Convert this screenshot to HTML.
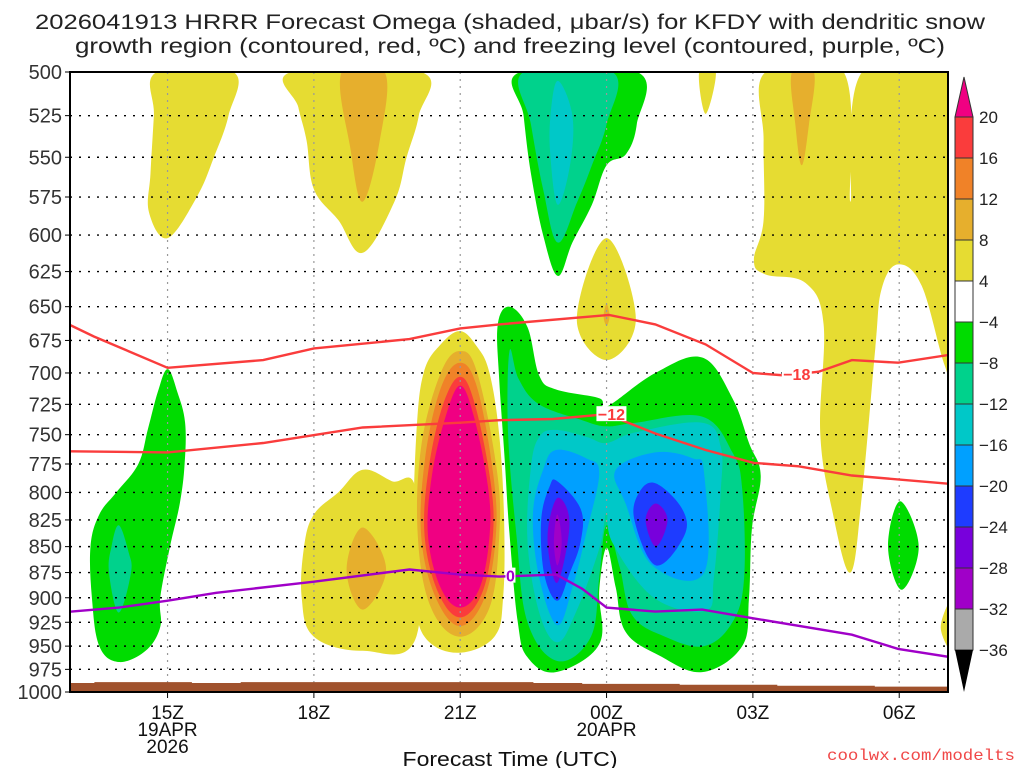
<!DOCTYPE html>
<html><head><meta charset="utf-8"><title>HRRR Omega</title>
<style>
html,body{margin:0;padding:0;background:#fff;}
svg{display:block;font-family:"Liberation Sans Narrow","Liberation Sans",sans-serif;}
</style></head>
<body>
<svg id="chart" width="1024" height="768" viewBox="0 0 1024 768" xmlns="http://www.w3.org/2000/svg">
<rect width="1024" height="768" fill="#fff"/>
<g id="title" fill="#222" font-size="21">
<text x="510" y="29" text-anchor="middle" textLength="950" lengthAdjust="spacingAndGlyphs">2026041913 HRRR Forecast Omega (shaded, μbar/s) for KFDY with dendritic snow</text>
<text x="510" y="53" text-anchor="middle" textLength="870" lengthAdjust="spacingAndGlyphs">growth region (contoured, red, ºC) and freezing level (contoured, purple, ºC)</text>
</g>
<defs><clipPath id="pc"><rect x="70" y="72" width="878" height="620"/></clipPath></defs>
<g id="fills" clip-path="url(#pc)"></g>
<g id="grid" clip-path="url(#pc)"></g>
<g id="lines" clip-path="url(#pc)"></g>
<g id="axes"></g>
<g id="cbar"></g>
<text x="510" y="766" text-anchor="middle" font-size="20" fill="#111" textLength="215" lengthAdjust="spacingAndGlyphs">Forecast Time (UTC)</text>
<text x="1015" y="760" text-anchor="end" font-size="16" fill="#f04848" font-family="Liberation Mono, monospace" textLength="188" lengthAdjust="spacingAndGlyphs">coolwx.com/modelts</text>
</svg>
<script>
// ---- axis data ----
const pressureTicks=[500,525,550,575,600,625,650,675,700,725,750,775,800,825,850,875,900,925,950,975,1000];
const timeTickHours=[15,18,21,24,27,30];
const timeTickLabels=["15Z","18Z","21Z","00Z","03Z","06Z"];
const dateLabels=[[15,"19APR"],[15,"2026"],[24,"20APR"]];
const colorLevels=["20","16","12","8","4","−4","−8","−12","−16","−20","−24","−28","−32","−36"];
const colorFills=["#fa3c3c","#f08228","#e6af2d","#e6dc32","#ffffff","#00dc00","#00d28c","#00c8c8","#00a0ff","#1e3cff","#7800dc","#a000c8","#aaaaaa"];
// ---- omega shaded regions (hour since 00Z 19APR, hPa) ----
const yellowTopLeft=[[14.78,500],[16.35,500],[16.25,525],[15.95,550],[15.6,575],[15.0,602],[14.62,585],[14.65,560],[14.72,525]];
const yellowTop18=[[17.54,500],[20.2,500],[20.15,525],[19.9,550],[19.65,578],[19.0,612],[18.5,590],[18.0,570],[17.85,540],[17.68,520]];
const goldTop18=[[18.57,500],[19.45,500],[19.35,540],[19.0,578],[18.75,545]];
const greenLeft=[[15.0,697],[15.2,715],[15.36,740],[15.35,775],[15.25,810],[15.05,850],[14.85,900],[14.85,930],[14.55,955],[14.0,967],[13.6,950],[13.45,900],[13.42,850],[13.6,820],[13.95,800],[14.4,775],[14.6,745],[14.8,715]];
const tealLeft=[[14.0,830],[14.2,855],[14.25,875],[14.0,915],[13.8,875],[13.85,850]];
const yellowLow18=[[17.8,850],[18.0,820],[18.5,800],[19.0,780],[19.6,790],[20.1,800],[20.1,940],[19.0,955],[18.0,940],[17.75,900]];
const goldLow18=[[19.0,832],[19.48,872],[19.0,912],[18.67,872]];
const yellowCol=[[21.0,668],[21.35,680],[21.6,700],[21.8,750],[21.9,825],[21.88,900],[21.7,940],[21.0,957],[20.35,945],[20.08,910],[20.03,850],[20.1,750],[20.25,700],[20.6,678]];
const goldCol=[[21.0,683],[21.35,700],[21.75,780],[21.8,840],[21.6,910],[21.0,940],[20.4,910],[20.13,840],[20.2,760],[20.6,700]];
const orangeCol=[[21.0,692],[21.35,712],[21.68,785],[21.73,840],[21.5,900],[21.0,929],[20.5,900],[20.2,840],[20.28,770],[20.6,712]];
const redCol=[[21.0,703],[21.3,725],[21.62,790],[21.67,840],[21.45,895],[21.0,920],[20.55,895],[20.27,840],[20.35,780],[20.65,725]];
const magentaCol=[[21.0,710],[21.28,735],[21.57,795],[21.6,840],[21.4,890],[21.0,910],[20.6,890],[20.34,840],[20.42,785],[20.7,735]];
const greenTop23=[[22.23,500],[24.63,500],[24.62,530],[24.4,548],[24.0,555],[23.7,580],[23.3,605],[23.0,628],[22.7,600],[22.45,560],[22.3,525]];
const tealTop23=[[22.3,500],[24.12,500],[24.0,530],[23.7,555],[23.4,578],[23.0,605],[22.7,570],[22.45,530]];
const cyanTop23=[[23.0,505],[23.3,525],[23.25,555],[23.0,580],[22.85,550],[22.85,525]];
const greenMain=[[22.01,650],[22.38,665],[22.62,702],[22.96,713],[23.85,720],[24.0,727],[25.0,700],[25.96,688],[26.58,720],[26.92,757],[27.16,785],[26.98,833],[26.92,900],[26.78,950],[25.96,978],[25.08,960],[24.39,935],[24.19,890],[24.0,851],[23.85,893],[23.85,948],[22.96,978],[22.38,962],[22.18,925],[22.01,838],[21.91,770],[21.8,705],[21.77,663]];
const tealMain=[[22.01,683],[22.2,705],[22.62,725],[23.5,738],[24.0,743],[24.6,740],[25.96,735],[26.58,765],[26.78,797],[26.82,880],[26.58,925],[26.0,950],[25.2,940],[24.53,918],[24.27,870],[24.0,830],[23.85,880],[23.68,940],[23.0,966],[22.38,925],[22.15,838],[21.98,748]];
const cyanMain=[[22.62,752],[22.96,746],[23.6,752],[24.0,757],[24.6,748],[25.96,740],[26.34,760],[26.34,800],[26.2,880],[26.03,913],[24.97,900],[24.13,847],[24.0,818],[23.85,852],[23.37,915],[22.99,946],[22.62,915],[22.38,845],[22.45,778]];
const lblueL=[[22.96,763],[23.58,770],[23.85,783],[23.58,838],[23.3,890],[22.99,928],[22.62,880],[22.49,820],[22.7,780]];
const lblueR=[[25.0,765],[25.76,770],[26.0,783],[26.0,875],[24.94,868],[24.39,810],[24.19,780]];
const blueL=[[22.99,790],[23.47,815],[23.47,845],[23.24,876],[22.99,903],[22.72,876],[22.66,825],[22.83,795]];
const blueR=[[25.01,792],[25.55,815],[25.59,840],[25.01,868],[24.57,825],[24.67,800]];
const purpleL=[[22.99,805],[23.24,828],[22.99,885],[22.79,842]];
const purpleR=[[25.01,810],[25.25,825],[25.01,850],[24.8,825]];
const violetL=[[22.99,820],[23.08,845],[22.99,868],[22.92,845]];
const yellowRight=[[27.26,500],[28.86,500],[29.0,578],[29.24,500],[31.2,500],[31.2,706],[30.94,695],[30.46,635],[29.98,620],[29.64,637],[29.51,681],[29.24,800],[29.0,875],[28.62,815],[28.38,748],[28.45,663],[28.08,633],[27.26,627],[27.02,617],[27.22,590],[27.22,540]];
const goldRight=[[27.8,500],[28.25,500],[28.15,530],[28.0,555],[27.87,530]];
const yellowSmallTop=[[25.9,500],[26.24,500],[26.03,524]];
const yellowDiamond=[[24.0,602],[24.6,659],[24.0,690],[23.39,659]];
const goldDot=[[24.0,648],[24.06,657],[24.0,664],[23.94,657]];
const greenSmall=[[30.02,808],[30.4,850],[30.05,892],[29.77,850]];
const yellowCorner=[[31.2,895],[31.2,960],[30.85,930]];
const shadedRegions=[
 [yellowTopLeft,"#e6dc32","yellow-region"],[yellowTop18,"#e6dc32","yellow-region"],[goldTop18,"#e6af2d","gold-region"],
 [greenLeft,"#00dc00","green-region"],[tealLeft,"#00d28c","teal-region"],
 [yellowLow18,"#e6dc32","yellow-region"],[goldLow18,"#e6af2d","gold-region"],
 [yellowCol,"#e6dc32","yellow-region"],[goldCol,"#e6af2d","gold-region"],[orangeCol,"#f08228","orange-region"],[redCol,"#fa3c3c","red-region"],[magentaCol,"#f00082","magenta-region"],
 [greenTop23,"#00dc00","green-region"],[tealTop23,"#00d28c","teal-region"],[cyanTop23,"#00c8c8","cyan-region"],
 [greenMain,"#00dc00","green-region"],[tealMain,"#00d28c","teal-region"],[cyanMain,"#00c8c8","cyan-region"],
 [lblueL,"#00a0ff","lightblue-region"],[lblueR,"#00a0ff","lightblue-region"],[blueL,"#1e3cff","blue-region"],[blueR,"#1e3cff","blue-region"],
 [purpleL,"#7800dc","purple-region"],[purpleR,"#7800dc","purple-region"],[violetL,"#a000c8","violet-region"],
 [yellowRight,"#e6dc32","yellow-region"],[goldRight,"#e6af2d","gold-region"],[yellowSmallTop,"#e6dc32","yellow-region"],
 [yellowDiamond,"#e6dc32","yellow-region"],[goldDot,"#e6af2d","gold-region"],[greenSmall,"#00dc00","green-region"],[yellowCorner,"#e6dc32","yellow-region"]
];
// ---- contour lines ----
const isoMinus18=[[12.8,660],[13.49,672],[15.0,696],[16.96,690],[18.0,681],[19.96,674],[21.0,666],[21.8,663],[24.05,656],[25.0,663],[26.03,678],[27.0,700],[27.67,702],[28.35,699],[29.03,690],[29.98,692],[31.2,685]];
const isoMinus12=[[12.8,764],[15.0,765],[16.96,757],[19.0,744],[21.0,740],[21.8,738],[22.9,737],[24.0,733],[25.0,749],[26.03,763],[27.02,774],[27.94,777],[29.03,785],[31.2,793]];
const isoZero=[[12.8,915],[14.0,910],[15.0,903],[16.0,895],[18.0,884],[19.96,872],[21.0,877],[21.8,879],[22.97,877],[23.5,891],[24.0,910],[25.0,914],[25.96,912],[27.02,921],[29.03,938],[29.98,953],[31.2,963]];
const contourLabels=[["−18",27.9,701,"#fa3c3c"],["−12",24.1,733,"#fa3c3c"],["0",22.03,878,"#a000c8"]];
const surfaceHours=[13,14,15,16,17,18,19,20,21,22,23,24,25,26,27,28,29,30,31];
const surfacePressure=[990,989,989,990,989,989,989,989,989,989,990,991,991,992,992,993,993,994,994];

const NS="http://www.w3.org/2000/svg";
const X0=70,X1=948,Y0=72,Y1=692,H0=13,H1=31;
function xOf(h){return X0+(h-H0)*(X1-X0)/(H1-H0);}
function yOf(p){return Y0+(Y1-Y0)*Math.log(p/500)/Math.log(2);}
function mk(tag,attrs,parent){const e=document.createElementNS(NS,tag);for(const k in attrs)e.setAttribute(k,attrs[k]);parent.appendChild(e);return e;}
function smoothClosed(pts){
 const P=pts.map(q=>[xOf(q[0]),yOf(q[1])]);const n=P.length;let d="M"+P[0][0].toFixed(1)+","+P[0][1].toFixed(1);
 for(let i=0;i<n;i++){const p0=P[(i-1+n)%n],p1=P[i],p2=P[(i+1)%n],p3=P[(i+2)%n];const t=0.18;
  const c1=[p1[0]+(p2[0]-p0[0])*t,p1[1]+(p2[1]-p0[1])*t],c2=[p2[0]-(p3[0]-p1[0])*t,p2[1]-(p3[1]-p1[1])*t];
  d+=" C"+c1[0].toFixed(1)+","+c1[1].toFixed(1)+" "+c2[0].toFixed(1)+","+c2[1].toFixed(1)+" "+p2[0].toFixed(1)+","+p2[1].toFixed(1);}
 return d+"Z";}
const fills=document.getElementById("fills");
for(const r of shadedRegions){
 const e=mk("path",{d:smoothClosed(r[0]),fill:r[1]},fills);
 
 
}
// grid
const grid=document.getElementById("grid");
for(const p of pressureTicks){const y=yOf(p);
 const g=mk("line",{x1:X0,x2:X1,y1:y,y2:y,stroke:"#000","stroke-width":1.4,"stroke-dasharray":"2 7"},grid);
 
 }
for(const h of timeTickHours){const x=xOf(h);
 const g=mk("line",{x1:x,x2:x,y1:Y0,y2:Y1,stroke:"#999","stroke-width":1.2,"stroke-dasharray":"2 5"},grid);
 
 }
// lines
const lines=document.getElementById("lines");
function poly(arr,col,name){const e=mk("polyline",{points:arr.map(q=>xOf(q[0]).toFixed(1)+","+yOf(q[1]).toFixed(1)).join(" "),fill:"none",stroke:col,"stroke-width":2.4},lines);
 
 }
poly(isoMinus18,"#fa3c3c","contour-minus18");
poly(isoMinus12,"#fa3c3c","contour-minus12");
poly(isoZero,"#a000c8","freezing-level-line");
for(const c of contourLabels){const x=xOf(c[1]),y=yOf(c[2]);
 mk("rect",{x:x-(c[0].length*5),y:y-8,width:c[0].length*10,height:15,fill:"#fff"},lines);
 const t=mk("text",{x:x,y:y+6,"text-anchor":"middle","font-size":16,"font-weight":"bold",fill:c[3]},lines);t.textContent=c[0];
 
 }
// terrain
let td="M"+xOf(surfaceHours[0])+","+(Y1+2);
surfaceHours.forEach((h,i)=>{td+=" L"+xOf(h-0.5).toFixed(1)+","+yOf(surfacePressure[i]).toFixed(1)+" L"+xOf(h+0.5).toFixed(1)+","+yOf(surfacePressure[i]).toFixed(1);});
td+=" L"+X1+","+(Y1+2)+" L"+X0+","+(Y1+2)+"Z";
const ter=mk("path",{d:td,fill:"#a0522d"},lines);


// axes
const axes=document.getElementById("axes");
const fr=mk("rect",{x:X0,y:Y0,width:X1-X0,height:Y1-Y0,fill:"none",stroke:"#000","stroke-width":2},axes);


for(const p of pressureTicks){const y=yOf(p);
 mk("line",{x1:X0-5,x2:X0,y1:y,y2:y,stroke:"#000","stroke-width":1},axes);
 const t=mk("text",{x:X0-8,y:y+7,"text-anchor":"end","font-size":20,fill:"#333"},axes);t.textContent=p;
 
 }
timeTickHours.forEach((h,i)=>{const x=xOf(h);
 mk("line",{x1:x,x2:x,y1:Y1,y2:Y1+6,stroke:"#000","stroke-width":1},axes);
 const t=mk("text",{x:x,y:Y1+27,"text-anchor":"middle","font-size":19,fill:"#111"},axes);t.textContent=timeTickLabels[i];
 
 });
dateLabels.forEach((d,i)=>{const yy=(d[1]==="2026")?Y1+61:Y1+44;
 const t=mk("text",{x:xOf(d[0]),y:yy,"text-anchor":"middle","font-size":19,fill:"#111"},axes);t.textContent=d[1];
 
 });
// colorbar
const cb=document.getElementById("cbar");
const CX=955,CW=18,CT=117,CB=650,step=(CB-CT)/colorFills.length;
const up=mk("polygon",{points:`${CX},${CT} ${CX+CW},${CT} ${CX+CW/2},${CT-40}`,fill:"#f00082",stroke:"#333","stroke-width":1},cb);


colorFills.forEach((c,i)=>{const r=mk("rect",{x:CX,y:CT+i*step,width:CW,height:step,fill:c,stroke:"#333","stroke-width":1},cb);
 
 });
const dn=mk("polygon",{points:`${CX},${CB} ${CX+CW},${CB} ${CX+CW/2},${CB+42}`,fill:"#000"},cb);


colorLevels.forEach((l,i)=>{const t=mk("text",{x:CX+24,y:CT+i*step+6,"font-size":17,fill:"#222"},cb);t.textContent=l;
 
 });
</script>
</body></html>
